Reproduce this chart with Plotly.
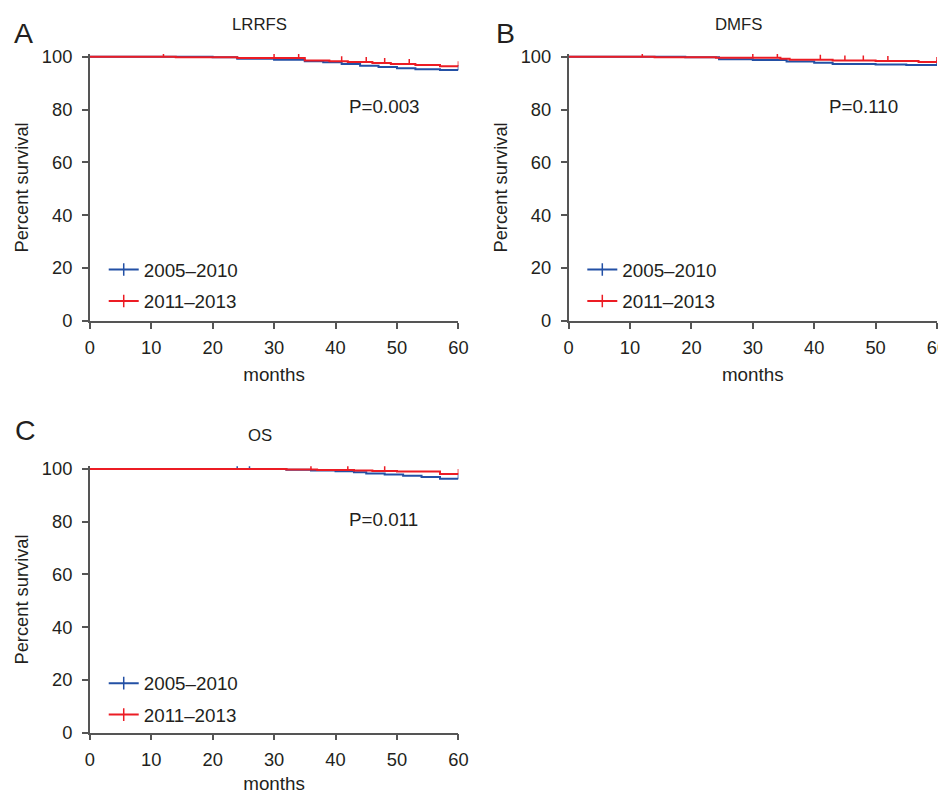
import plotly.graph_objects as go

# ---------------- data ----------------
group_names = ["2005–2010", "2011–2013"]
panel_letters = ["A", "B", "C"]
panel_titles = ["LRRFS", "DMFS", "OS"]
p_values = ["P=0.003", "P=0.110", "P=0.011"]
month_ticks = [0, 10, 20, 30, 40, 50, 60]
survival_ticks = [0, 20, 40, 60, 80, 100]

# Panel A (LRRFS)
a_blue_t = [0, 20, 24, 30, 35, 38, 41, 44, 47, 50, 53, 57]
a_blue_s = [100, 99.8, 99.2, 98.9, 98.3, 97.9, 97.3, 96.6, 96.1, 95.6, 95.3, 95.0]
a_blue_c = [60]
a_red_t = [0, 14, 24, 35, 39, 42, 46, 49, 53, 57]
a_red_s = [100, 99.8, 99.5, 98.6, 98.3, 98.0, 97.6, 97.3, 96.9, 96.4]
a_red_c = [12, 30, 34, 41, 45, 48, 52, 60]

# Panel B (DMFS)
b_blue_t = [0, 19, 24.5, 30, 35.5, 40, 43, 50, 55]
b_blue_s = [100, 99.8, 99.1, 98.8, 98.2, 97.7, 97.3, 97.1, 96.9]
b_blue_c = [60]
b_red_t = [0, 14, 24, 34.5, 36, 43, 50, 57]
b_red_s = [100, 99.8, 99.6, 99.2, 98.9, 98.6, 98.4, 98.0]
b_red_c = [12, 30, 34, 41, 45, 48, 52, 60]

# Panel C (OS)
c_blue_t = [0, 32, 36, 40, 43, 45, 48, 51, 54, 57]
c_blue_s = [100, 99.7, 99.4, 99.1, 98.7, 98.3, 97.9, 97.4, 96.9, 96.3]
c_blue_c = [24, 26, 60]
c_red_t = [0, 32, 37, 43, 46, 50, 57]
c_red_s = [100, 99.8, 99.6, 99.4, 99.2, 99.0, 98.1]
c_red_c = [36, 42, 48, 60]

# ---------------- styling / layout ----------------
W, H = 946, 796
# measured mapping between figure pixels and the photographed picture
SX, OX = 0.985, 12.2
SY, OY = 0.981, 16.4
FS = 1.0 / 0.983   # font compensation

FONT = "Liberation Sans, Arial, Helvetica, sans-serif"
TXT = "#231f20"
AXC = "#555555"
BLUE = "#2350a5"
RED = "#ec1c24"
colors = [BLUE, RED]

# plot-area boxes in picture pixels: (x(0), x(60), y(100), y(0))
boxes = [
    (89.0, 458.0, 57.3, 322.3),
    (568.3, 937.0, 57.3, 322.3),
    (89.0, 458.0, 471.0, 735.7),
]
YMAX = 101.0
TICK_PX = 5.0


def px_x(p):
    return min(1.0, max(0.0, ((p - OX) / SX) / W))


def px_y(p):
    return min(1.0, max(0.0, 1 - ((p - OY) / SY) / H))


def step_val(t, s, x):
    v = s[0]
    for ti, si in zip(t, s):
        if ti <= x:
            v = si
    return v


def km_points(t, s, censor):
    xs = sorted(set(t) | set(censor) | {60})
    ys = [step_val(t, s, x) for x in xs]
    return xs, ys


panels = [
    [(a_blue_t, a_blue_s, a_blue_c), (a_red_t, a_red_s, a_red_c)],
    [(b_blue_t, b_blue_s, b_blue_c), (b_red_t, b_red_s, b_red_c)],
    [(c_blue_t, c_blue_s, c_blue_c), (c_red_t, c_red_s, c_red_c)],
]

fig = go.Figure()
legend_names = ["legend", "legend2", "legend3"]

for pi, series in enumerate(panels):
    xl, xr, yt, yb = boxes[pi]
    unit_px = (yb - yt) / 100.0
    tick_units = TICK_PX / unit_px
    axn = "" if pi == 0 else str(pi + 1)
    for gi, (t, s, c) in enumerate(series):
        xs, ys = km_points(t, s, c)
        err = [tick_units if x in c else 0 for x in xs]
        fig.add_trace(go.Scatter(
            x=xs, y=ys, name=group_names[gi],
            mode="lines+markers", line=dict(color=colors[gi], width=2, shape="hv"),
            marker=dict(symbol="line-ns", size=9, color=colors[gi],
                        line=dict(color=colors[gi], width=1.5)),
            selectedpoints=[], unselected=dict(marker=dict(opacity=0)),
            error_y=dict(type="data", symmetric=False, array=err,
                         arrayminus=[0] * len(xs), width=0, thickness=1.5,
                         color=colors[gi]),
            cliponaxis=False,
            xaxis="x" + axn, yaxis="y" + axn,
            legend=legend_names[pi], legendgroup=f"g{pi}{gi}",
            hoverinfo="skip",
        ))

axis_common = dict(
    showgrid=False, zeroline=False, showline=True, linecolor=AXC, linewidth=1.5,
    ticks="outside", ticklen=6, tickwidth=1.5, tickcolor=AXC,
    tickfont=dict(family=FONT, size=18 * FS, color=TXT),
)

layout = dict(
    width=W, height=H, margin=dict(l=0, r=0, t=0, b=0),
    paper_bgcolor="white", plot_bgcolor="white",
    font=dict(family=FONT, color=TXT),
    showlegend=True,
)

leg_pos = [(103.0, 252.0), (582.0, 252.0), (103.0, 667.2)]
xtitle_standoff = [10, 10, 7]

for pi in range(3):
    xl, xr, yt, yb = boxes[pi]
    unit_px = (yb - yt) / 100.0
    ytop = yt - (YMAX - 100) * unit_px
    axn = "" if pi == 0 else str(pi + 1)
    layout["xaxis" + axn] = dict(
        axis_common, domain=[px_x(xl), px_x(xr)], range=[0, 60],
        tickvals=month_ticks, anchor="y" + axn, ticklabelstandoff=4,
        title=dict(text="months", font=dict(family=FONT, size=18.5 * FS, color=TXT),
                   standoff=xtitle_standoff[pi]),
    )
    layout["yaxis" + axn] = dict(
        axis_common, domain=[px_y(yb), px_y(ytop)], range=[0, YMAX],
        tickvals=survival_ticks, anchor="x" + axn, ticklabelstandoff=6,
        title=dict(text="Percent survival", font=dict(family=FONT, size=18 * FS, color=TXT), standoff=8),
    )
    lx, ly = leg_pos[pi]
    layout[legend_names[pi]] = dict(
        x=px_x(lx), y=px_y(ly), xanchor="left", yanchor="top",
        bgcolor="rgba(0,0,0,0)", font=dict(family=FONT, size=18.5 * FS, color=TXT),
        itemwidth=30, traceorder="grouped", tracegroupgap=4,
    )

fig.update_layout(**layout)

# annotations: panel letters, titles, p-values (picture pixel positions)
letter_x = [9, 495, 9]
letter_y = [None, None, 431.7]
title_pos = [(259, 24.7), (738.5, 24.7), (259, 437.7)]
pval_pos = [(384, 107.7), (863, 107.7), (383, 521.7)]
for pi in range(3):
    if letter_y[pi] is None:
        fig.add_annotation(x=px_x(letter_x[pi]), y=1, xref="paper", yref="paper",
                           text=panel_letters[pi], showarrow=False, xanchor="left", yanchor="top",
                           borderpad=0, font=dict(family=FONT, size=28 * FS, color=TXT))
    else:
        fig.add_annotation(x=px_x(letter_x[pi]), y=px_y(letter_y[pi]), xref="paper", yref="paper",
                           text=panel_letters[pi], showarrow=False, xanchor="left", yanchor="middle",
                           font=dict(family=FONT, size=28 * FS, color=TXT))
    tx, ty = title_pos[pi]
    fig.add_annotation(x=px_x(tx), y=px_y(ty), xref="paper", yref="paper",
                       text=panel_titles[pi], showarrow=False, xanchor="center", yanchor="middle",
                       font=dict(family=FONT, size=16.5 * FS, color=TXT))
    px_, py_ = pval_pos[pi]
    fig.add_annotation(x=px_x(px_), y=px_y(py_), xref="paper", yref="paper",
                       text=p_values[pi], showarrow=False, xanchor="center", yanchor="middle",
                       font=dict(family=FONT, size=18.5 * FS, color=TXT))

fig.write_html("out.html")
